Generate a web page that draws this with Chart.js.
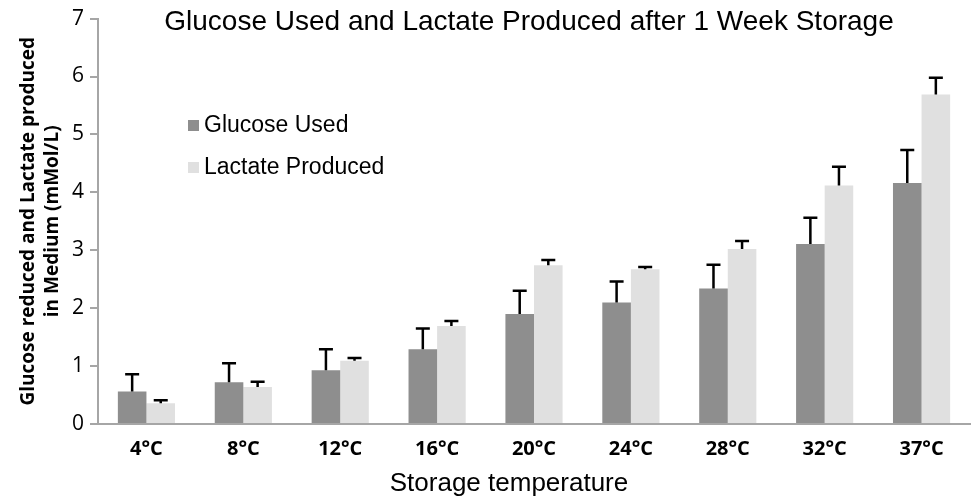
<!DOCTYPE html>
<html>
<head>
<meta charset="utf-8">
<script src="https://cdn.jsdelivr.net/npm/chart.js@4"></script>
<style>
  html, body { margin: 0; padding: 0; background: #fff; }
  #wrap { width: 971px; height: 497px; }
</style>
</head>
<body>
<div id="wrap"><canvas id="chart"></canvas></div>
<script>
const labels = ['4°C', '8°C', '12°C', '16°C', '20°C', '24°C', '28°C', '32°C', '37°C'];
const glucoseUsed = [0.56, 0.72, 0.93, 1.29, 1.90, 2.10, 2.34, 3.11, 4.16];
const glucoseSd = [0.30, 0.33, 0.36, 0.36, 0.40, 0.36, 0.41, 0.45, 0.57];
const lactateProduced = [0.36, 0.64, 1.09, 1.69, 2.74, 2.67, 3.02, 4.12, 5.69];
const lactateSd = [0.05, 0.09, 0.05, 0.09, 0.09, 0.04, 0.14, 0.32, 0.29];

const chartTitle = 'Glucose Used and Lactate Produced after 1 Week Storage';
const xTitle = 'Storage temperature';

// upper error bars, drawn from the bar top through the y scale
const errorBars = {
    id: 'errorBars',
    afterDatasetsDraw(chart) {
        const ctx = chart.ctx;
        const y = chart.scales.y;
        const sds = [glucoseSd, lactateSd];
        ctx.save();
        ctx.strokeStyle = '#000';
        ctx.lineWidth = 2.5;
        chart.data.datasets.forEach((ds, i) => {
            chart.getDatasetMeta(i).data.forEach((bar, j) => {
                const top = y.getPixelForValue(ds.data[j] + sds[i][j]);
                ctx.beginPath();
                ctx.moveTo(bar.x, bar.y);
                ctx.lineTo(bar.x, top);
                ctx.moveTo(bar.x - 7, top);
                ctx.lineTo(bar.x + 7, top);
                ctx.stroke();
            });
        });
        ctx.restore();
    }
};

// title, legend and x title are placed by hand (they sit off-centre in the original)
const overlay = {
    id: 'overlay',
    afterDraw(chart) {
        const ctx = chart.ctx;
        const a = chart.chartArea;
        ctx.save();
        ctx.fillStyle = '#000';
        ctx.font = '28px "Liberation Sans", Arial, sans-serif';
        ctx.textAlign = 'center';
        ctx.textBaseline = 'middle';
        ctx.fillText(chartTitle, (a.left + a.right) / 2 - 5, 22);

        ctx.font = '26px "Liberation Sans", Arial, sans-serif';
        ctx.fillText(xTitle, 509, 484);

        ctx.font = '23px "Liberation Sans", Arial, sans-serif';
        ctx.textAlign = 'left';
        chart.data.datasets.forEach((ds, i) => {
            const yy = 126 + i * 42;
            ctx.fillStyle = ds.backgroundColor;
            ctx.fillRect(188, yy - 6, 11, 11);
            ctx.fillStyle = '#000';
            ctx.fillText(ds.label, 204, yy);
        });
        ctx.restore();
    }
};

new Chart(document.getElementById('chart'), {
    type: 'bar',
    data: {
        labels,
        datasets: [
            { label: 'Glucose Used', data: glucoseUsed, backgroundColor: '#8e8e8e' },
            { label: 'Lactate Produced', data: lactateProduced, backgroundColor: '#e0e0e0' }
        ]
    },
    options: {
        responsive: true,
        maintainAspectRatio: false,
        animation: false,
        datasets: { bar: { categoryPercentage: 0.59, barPercentage: 1.0 } },
        layout: { padding: { top: 18, right: 1, left: 0, bottom: 0 } },
        plugins: {
            legend: { display: false },
            title: { display: false },
            tooltip: { enabled: false }
        },
        scales: {
            x: {
                grid: { display: false, drawTicks: false },
                border: { color: '#a6a6a6', width: 2 },
                ticks: {
                    color: '#000',
                    padding: 13,
                    font: { family: '"Open Sans", sans-serif', size: 20, weight: 'bold' }
                },
                afterFit: s => { s.height = 73; }
            },
            y: {
                min: 0,
                max: 7,
                grid: { drawOnChartArea: false, color: '#a6a6a6', tickLength: 8, lineWidth: 2 },
                border: { color: '#a6a6a6', width: 2 },
                ticks: {
                    stepSize: 1,
                    color: '#000',
                    padding: 6,
                    font: { family: '"Open Sans", sans-serif', size: 21 }
                },
                title: {
                    display: true,
                    text: ['Glucose reduced and Lactate produced', 'in Medium (mMol/L)'],
                    color: '#000',
                    padding: { top: 17, bottom: 0 },
                    font: { family: '"Open Sans", sans-serif', size: 19, weight: 'bold', lineHeight: 1.25 }
                },
                afterFit: s => { s.width = 98; }
            }
        }
    },
    plugins: [errorBars, overlay]
});
</script>
</body>
</html>
